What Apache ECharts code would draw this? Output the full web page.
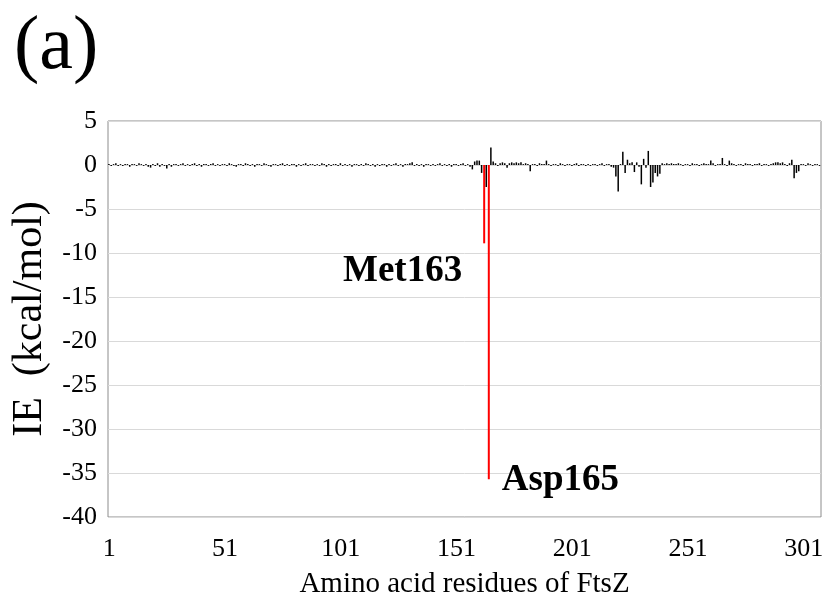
<!DOCTYPE html>
<html>
<head>
<meta charset="utf-8">
<script src="https://cdn.jsdelivr.net/npm/echarts@6/dist/echarts.min.js"></script>
<style>
html,body{margin:0;padding:0;background:#fff;}
#main{width:827px;height:605px;}
</style>
</head>
<body>
<div id="main"></div>
<script>
// ---- data ----
const firstResidue = 1;
const residueCount = 308;
const tickLabels = ['1', '51', '101', '151', '201', '251', '301'];

// interaction energies (kcal/mol) for each residue; hotspot residues are null here
const ieValues = [
  0.1, -0.1, 0.1, 0.2, -0.1, 0.1, -0.1, 0.1, 0.1, -0.2,
  0.1, 0.1, -0.1, 0.2, 0.1, -0.1, 0.1, -0.2, -0.3, 0.1,
  -0.1, 0.2, -0.2, 0.1, -0.1, -0.4, 0.1, -0.2, 0.1, 0.1,
  -0.1, 0.1, 0.2, -0.1, 0.1, -0.1, 0.1, 0.2, -0.1, 0.1,
  -0.2, 0.1, 0.1, -0.1, 0.1, 0.2, -0.1, 0.1, -0.1, 0.1,
  0.1, -0.1, 0.2, 0.1, -0.1, -0.2, 0.1, 0.1, -0.1, 0.2,
  0.1, -0.1, 0.1, -0.2, 0.1, 0.1, -0.1, 0.2, 0.1, -0.1,
  -0.2, 0.1, 0.1, -0.1, 0.1, 0.2, -0.1, 0.1, -0.1, 0.1,
  0.1, -0.2, 0.1, -0.1, 0.1, 0.2, -0.1, 0.1, 0.1, -0.1,
  0.1, -0.1, 0.2, 0.1, -0.2, 0.1, -0.1, 0.1, 0.1, -0.1,
  0.2, -0.1, 0.1, -0.1, 0.1, -0.2, 0.1, 0.1, -0.1, 0.1,
  -0.1, 0.2, 0.1, -0.1, 0.1, -0.2, 0.1, -0.1, 0.1, 0.1,
  -0.2, 0.1, -0.1, 0.1, 0.2, -0.1, 0.1, -0.2, 0.1, 0.1,
  0.2, 0.3, -0.1, 0.1, -0.1, 0.1, -0.2, 0.1, 0.1, -0.1,
  0.1, -0.1, 0.1, 0.2, -0.1, 0.1, -0.1, 0.1, -0.2, 0.1,
  0.1, -0.1, 0.1, 0.2, -0.1, 0.1, -0.2, -0.5, 0.4, 0.5,
  0.5, -0.9, null, -2.5, null, 2.0, 0.4, 0.2, -0.1, 0.2,
  0.3, 0.2, -0.3, 0.2, 0.3, 0.2, 0.3, 0.2, 0.3, 0.1,
  0.2, 0.1, -0.7, 0.1, 0.1, -0.1, 0.2, 0.1, 0.1, 0.5,
  0.1, -0.1, 0.1, 0.1, -0.1, 0.2, 0.1, -0.1, 0.1, 0.1,
  -0.1, 0.1, 0.2, -0.1, 0.1, 0.1, -0.1, 0.1, -0.1, 0.1,
  0.1, -0.1, 0.1, 0.2, -0.1, 0.1, 0.1, -0.2, -0.3, -1.3,
  -3.0, 0.1, 1.5, -0.9, 0.6, 0.2, 0.3, -0.8, 0.3, -0.2,
  -2.2, 0.7, -0.3, 1.6, -2.5, -2.0, -0.9, -1.3, -1.0, 0.2,
  0.1, 0.2, 0.1, 0.2, 0.1, 0.1, 0.2, 0.1, -0.1, 0.1,
  0.1, -0.1, 0.2, 0.1, 0.1, -0.1, 0.1, 0.2, 0.1, 0.1,
  0.5, 0.2, -0.1, 0.1, 0.1, 0.8, 0.1, -0.1, 0.5, 0.2,
  0.1, -0.1, 0.1, 0.1, -0.1, 0.2, 0.1, 0.1, -0.1, 0.1,
  0.1, 0.2, -0.1, 0.1, 0.1, -0.1, 0.1, 0.2, 0.3, 0.3,
  0.2, 0.3, 0.1, -0.1, 0.2, 0.6, -1.5, -0.9, -0.7, 0.1,
  0.1, -0.1, 0.2, 0.1, -0.1, 0.1, 0.1, -0.1
];

const hotspotResidues = [163, 165];
const hotspotValues = [-8.9, -35.7];
const hotspotNames = ['Met163', 'Asp165'];

// ---- build ----
const categories = [];
for (let i = 0; i < residueCount; i++) categories.push(String(firstResidue + i));
const redData = categories.map(() => null);
hotspotResidues.forEach((r, k) => { redData[r - firstResidue] = hotspotValues[k]; });

const serif = "'Liberation Serif', 'Times New Roman', serif";
const labelFont = { fontFamily: serif, fontWeight: 'bold', fontSize: 37, color: '#000' };

const chart = echarts.init(document.getElementById('main'), null, { renderer: 'canvas' });
chart.setOption({
  animation: false,
  backgroundColor: '#fff',
  graphic: [{
    type: 'text', left: 14, top: 10,
    style: { text: '(a)', font: "76px " + serif, fill: '#000' }
  }],
  grid: {
    left: 108, right: 6, top: 121, bottom: 88,
    containLabel: false,
    show: true, borderColor: '#8c8c8c', borderWidth: 1
  },
  xAxis: {
    type: 'category',
    data: categories,
    boundaryGap: true,
    name: 'Amino acid residues of FtsZ',
    nameLocation: 'middle',
    nameGap: 53,
    nameTextStyle: { fontFamily: serif, fontSize: 29, color: '#000' },
    axisLine: { show: false },
    axisTick: { show: false },
    axisLabel: {
      interval: 0,
      formatter: (v) => tickLabels.indexOf(v) >= 0 ? v : '',
      margin: 19,
      fontFamily: serif, fontSize: 26, color: '#000'
    },
    splitLine: { show: false }
  },
  yAxis: {
    type: 'value',
    min: -40, max: 5, interval: 5,
    name: 'IE  (kcal/mol)',
    nameLocation: 'middle',
    nameGap: 54,
    nameRotate: 90,
    nameTextStyle: { fontFamily: serif, fontSize: 42, color: '#000' },
    axisLine: { show: false },
    axisTick: { show: false },
    axisLabel: { margin: 11, fontFamily: serif, fontSize: 26, color: '#000' },
    splitLine: { show: true, lineStyle: { color: '#d9d9d9', width: 1 } }
  },
  series: [
    {
      type: 'bar',
      data: ieValues,
      barWidth: 1.5,
      barGap: '-100%',
      itemStyle: { color: '#000' },
      silent: true
    },
    {
      type: 'bar',
      data: redData,
      barWidth: 2,
      barGap: '-100%',
      itemStyle: { color: '#ff0000' },
      silent: true,
      markPoint: {
        symbol: 'circle',
        symbolSize: 0,
        data: [
          { coord: [String(hotspotResidues[0]), hotspotValues[0]],
            label: Object.assign({ show: true, formatter: hotspotNames[0], position: 'left', distance: 22, offset: [0, 28] }, labelFont) },
          { coord: [String(hotspotResidues[1]), hotspotValues[1]],
            label: Object.assign({ show: true, formatter: hotspotNames[1], position: 'right', distance: 13, offset: [0, 1] }, labelFont) }
        ]
      }
    }
  ]
});
</script>
</body>
</html>
